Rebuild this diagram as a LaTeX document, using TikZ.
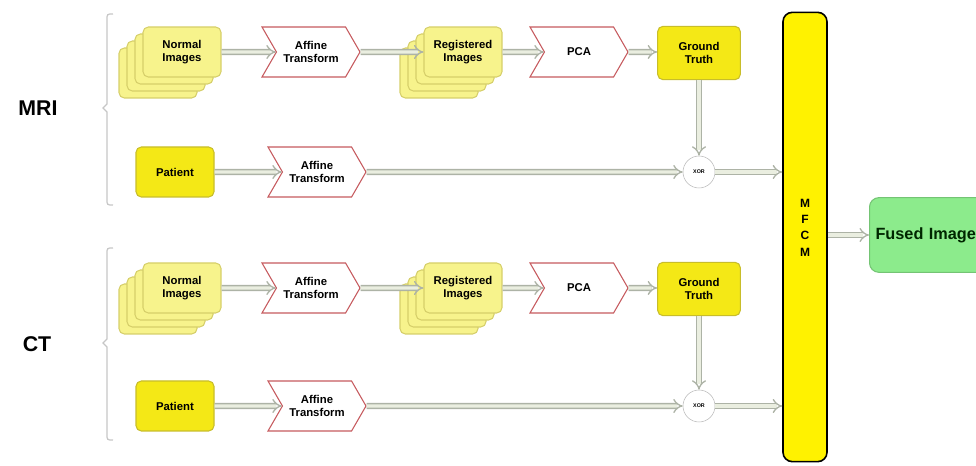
\documentclass[tikz,border=0pt]{standalone}
\usepackage{fontspec}
\setmainfont{Liberation Sans}
\usepackage{xcolor}
\usetikzlibrary{shapes.symbols,arrows.meta}

\definecolor{paleyel}{HTML}{F7F38C}
\definecolor{paleedge}{HTML}{D6CF6A}
\definecolor{deepyel}{HTML}{F4E816}
\definecolor{deepedge}{HTML}{C8BD2A}
\definecolor{chevred}{HTML}{C65A5E}
\definecolor{flowgray}{HTML}{ADB3A6}
\definecolor{flowin}{HTML}{EAEEE0}
\definecolor{fusegreen}{HTML}{8CEB8C}
\definecolor{fuseedge}{HTML}{74C474}

% stack of image cards, front card named #1 at (#2,#3)
\newcommand{\imgstack}[4]{%
  \foreach \k in {3,2,1}
    \filldraw[backcard] ({#2-39-8*\k},{#3-25+7*\k}) rectangle ++(78,50);
  \node[card] (#1) at (#2,#3) {#4};
}

\begin{document}
\begin{tikzpicture}[x=0.75pt, y=-0.75pt,
    txt/.style={font=\bfseries\fontsize{8.5}{9.5}\selectfont, align=center},
    card/.style={txt, draw=paleedge, fill=paleyel, rounded corners=4pt, line width=0.8pt,
                 minimum width=58.5pt, minimum height=37.5pt},
    backcard/.style={draw=paleedge, fill=paleyel, rounded corners=4pt, line width=0.8pt},
    solid/.style={card, draw=deepedge, fill=deepyel},
    chev/.style={txt, signal, signal to=east, signal from=west, signal pointer angle=120,
                 draw=chevred, fill=white, line width=0.8pt,
                 minimum width=73.5pt, minimum height=37.5pt},
    xorc/.style={circle, draw=gray!55, fill=white, minimum size=24pt, inner sep=0pt,
                 font=\bfseries\fontsize{4}{4}\selectfont},
    flow/.style={draw=flowgray, double=flowin, double distance=2.6pt, line width=1pt,
                 -{Implies[scale=1.4]}},
    brace/.style={draw=gray!45, line width=0.9pt},
    side/.style={font=\bfseries\fontsize{16}{16}\selectfont}]
  \useasboundingbox (0,0) rectangle (976,466);

  % MRI section
  \node[side] (mri) at (38,108) {MRI};
  \draw[brace] (113,14) .. controls (107,14) .. (107,20) -- (107,104) -- (103,108) -- (107,112)
    -- (107,199) .. controls (107,205) .. (113,205);
  \imgstack{norm1}{182}{52}{Normal\\Images}
  \node[chev] (aff1) at (311,52) {Affine\\Transform};
  \imgstack{reg1}{463}{52}{Registered\\Images}
  \node[chev] (pca1) at (579,52) {PCA};
  \node[solid, minimum width=62pt, minimum height=40pt] (gt1) at (699,53) {Ground\\Truth};
  \node[solid] (pat1) at (175,172) {Patient};
  \node[chev] (aff2) at (317,172) {Affine\\Transform};
  \node[xorc] (xor1) at (699,172) {XOR};

  \draw[flow] (norm1) -- (aff1);
  \draw[flow] (aff1) -- (reg1);
  \draw[flow] (reg1) -- (pca1);
  \draw[flow] (pca1) -- (pca1 -| gt1.west);
  \draw[flow] (gt1) -- (xor1);
  \draw[flow] (pat1) -- (aff2);
  \draw[flow] (aff2) -- (xor1);

  % CT section
  \node[side] (ct) at (37,344) {CT};
  \draw[brace] (113,248) .. controls (107,248) .. (107,254) -- (107,339) -- (103,343) -- (107,347)
    -- (107,434) .. controls (107,440) .. (113,440);
  \imgstack{norm2}{182}{288}{Normal\\Images}
  \node[chev] (aff3) at (311,288) {Affine\\Transform};
  \imgstack{reg2}{463}{288}{Registered\\Images}
  \node[chev] (pca2) at (579,288) {PCA};
  \node[solid, minimum width=62pt, minimum height=40pt] (gt2) at (699,289) {Ground\\Truth};
  \node[solid] (pat2) at (175,406) {Patient};
  \node[chev] (aff4) at (317,406) {Affine\\Transform};
  \node[xorc] (xor2) at (699,406) {XOR};

  \draw[flow] (norm2) -- (aff3);
  \draw[flow] (aff3) -- (reg2);
  \draw[flow] (reg2) -- (pca2);
  \draw[flow] (pca2) -- (pca2 -| gt2.west);
  \draw[flow] (gt2) -- (xor2);
  \draw[flow] (pat2) -- (aff4);
  \draw[flow] (aff4) -- (xor2);

  % fusion
  \node[draw=black, fill=yellow, line width=1.2pt, rounded corners=7pt,
        minimum width=33pt, minimum height=337pt, font=\bfseries\fontsize{9}{11.5}\selectfont]
        (mfcm) at (805,237) {\raisebox{14pt}{\shortstack{M\\[3pt]F\\[3pt]C\\[3pt]M}}};
  \node[draw=fuseedge, fill=fusegreen, rounded corners=7pt, line width=0.8pt, anchor=west,
        text width=92pt, inner xsep=4.5pt, minimum height=56pt, align=left,
        font=\bfseries\fontsize{12.2}{14}\selectfont, text=black!85!green]
        (fused) at (869,235) {Fused Image};

  \draw[flow] (xor1) -- (xor1 -| mfcm.west);
  \draw[flow] (xor2) -- (xor2 -| mfcm.west);
  \draw[flow] (mfcm.east |- fused.west) -- (fused.west);
\end{tikzpicture}
\end{document}
